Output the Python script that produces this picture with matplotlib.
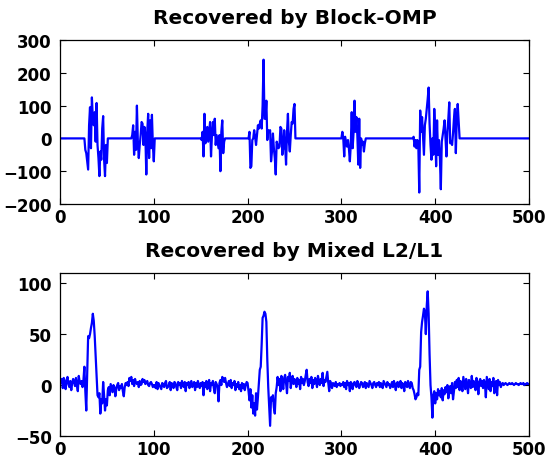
import numpy as np
import matplotlib
matplotlib.use("Agg")
import matplotlib.pyplot as plt

# signal length
n_samples = 500

# Block-OMP result: zero everywhere except these blocks (start index, values)
block1_start = 25
block1 = [0, -35, -45, -70, -95, 40, 95, -30, 125, 60,
          40, 80, -10, 108, -20, -60, -115, -40, -65, 30,
          68, -65, -115, -20, -75, 0]
block2_start = 75
block2 = [0, 10, 40, -50, 20, -35, 100, -10, -60, -20,
          10, 50, 45, -20, 35, 10, -110, 20, 75, -60,
          55, -30, 72, -20, -70, 0]
block3_start = 150
block3 = [-5, 20, -55, 75, -15, 20, 35, -10, 20, 50,
          -55, 10, 50, 10, 60, -20, 10, -10, -30, 10,
          -100, 20, 55, -45, -10, 0]
block4_start = 200
block4 = [0, 20, -90, -85, -5, 0, 25, 5, -20, 10,
          40, 30, 45, 55, 30, 100, 240, 60, 60, 115,
          -5, 25, 20, 25, -70, -40, 15, -30, -60, -110,
          -10, -20, -30, -25, 35, 30, -50, -30, 25, -20,
          -80, 20, 75, -10, -40, 10, 50, 45, 90, 105,
          0]
block5_start = 300
block5 = [20, 0, -55, 5, -10, -25, -5, -30, -70, -20,
          80, -30, 20, 115, 20, 65, 10, -80, 60, -90,
          0, -20, -10, -40, -15, 0]
block6_start = 375
block6 = [0, 5, -25, -5, -30, -5, -20, -165, 85, 20,
          65, 10, -50, 40, 60, 90, 120, 155, 45, -20,
          -65, 0, -50, 90, 20, -85, 55, -50, -5, -60,
          -155, -10, 10, 30, 55, 0, -55, 20, 60, 110,
          -15, -10, -20, 15, 60, 90, -45, 60, 105, 50,
          0]

mixed_000 = [3, 6, -3, 7, 2, -4, 5, 8, 1, -2,
             4, -5, 2, 6, 3, -1, 7, 0, -6, 9,
             3, 1, 4, -2, 5, 18, -6, -25, 10, 48,
             46, 50, 56, 61, 70, 63, 48, 28, 6, -10,
             -12, -8, -28, -14, -18, 3, -10, -25, -14, -20]
mixed_050 = [-5, -2, -10, 1, -3, -7, 0, -2, -11, -4,
             0, 2, -5, -1, -3, 1, -6, -11, -2, 2,
             0, 3, -1, 7, 4, 8, 1, 5, -1, 6,
             2, 1, 3, -2, 4, 0, 1, 6, 3, 5,
             1, 2, 4, 0, -1, 2, 3, 1, -2, 0]
mixed_100 = [0, -3, 3, -4, 2, 0, -2, -4, 2, 1,
             -2, 2, 4, -3, -2, 0, 3, -5, 2, 0,
             -3, 3, 2, -2, -5, 3, 0, 2, -3, 4,
             0, -2, 3, -6, 2, 0, 3, -3, 2, 4,
             -2, 0, 3, -5, 2, -2, 4, 0, -3, 2]
mixed_150 = [-1, 3, -10, 2, -2, 4, -4, 1, 5, -6,
             2, 0, 4, -3, -8, 3, 1, -2, -16, 2,
             5, 0, 8, 6, 3, 7, 2, -2, 1, 4,
             -1, 5, -3, 2, 0, 4, -5, 1, -2, 3,
             -4, 0, -6, 2, -3, 1, -5, 0, 3, 2]
mixed_200 = [-6, -15, -4, -22, -10, -28, -18, -30, -8, -24,
             -12, 2, 15, 18, 40, 66, 68, 72, 70, 62,
             25, -2, -20, -40, -12, -15, -10, -22, -28, -8,
             -2, 8, 0, 6, -6, 9, 3, -4, 7, 10,
             2, -8, 8, 4, 12, -3, 5, 9, 1, 6]
mixed_250 = [3, -2, 7, 1, 5, -4, 8, 2, 6, 0,
             4, 10, 15, 3, -1, 6, 2, 8, -3, 5,
             1, 7, 3, -2, 9, 4, 0, 6, 2, 12,
             -1, 5, 3, 8, 13, 2, -6, 4, 1, -3,
             2, 0, -1, 3, -2, 1, 0, 2, -1, 1]
mixed_300 = [0, 3, -2, 2, -4, 4, 0, 2, -6, 3,
             0, -4, 2, 3, 0, -2, 4, 1, -3, 0,
             3, 2, -2, 0, 3, -3, 2, 0, -2, 4,
             2, 0, -3, 2, 3, 0, -2, 2, 0, 3,
             -2, 2, 0, -3, 4, 2, 0, -2, 3, 0]
mixed_350 = [1, -3, 0, 3, -2, 4, 0, -5, 2, 3,
             -2, 0, 4, -3, 2, 0, -6, 3, 2, -2,
             4, 0, -3, 3, 2, -3, -5, -9, -14, -12,
             -8, -10, 15, 18, 52, 62, 68, 75, 72, 50,
             78, 92, 70, 30, 0, -12, -32, -10, -6, -18]
mixed_400 = [-8, -14, -4, -10, -6, -12, -3, -15, -5, -9,
             -2, -7, 0, -13, -4, -1, -8, 2, -14, -6,
             3, -3, 5, -2, 7, -5, 4, 1, -6, 8,
             2, -4, 6, 0, -8, 5, 1, -3, 9, -2,
             4, 0, -5, 7, 2, -9, 3, 6, -1, 4]
mixed_450 = [-3, 5, 1, -12, 8, 2, -4, 6, -6, 3,
             -1, 7, -8, 2, 4, -10, 5, 0, 3, -2,
             1, 2, 0, 1, 2, 1, 0, 1, 2, 1,
             1, 2, 1, 0, 1, 2, 1, 1, 0, 1,
             2, 1, 1, 2, 0, 1, 1, 2, 1, 1]

titles = ["Recovered by Block-OMP", "Recovered by Mixed L2/L1"]

# build the two signals
omp = np.zeros(n_samples)
for start, vals in [(block1_start, block1), (block2_start, block2), (block3_start, block3),
                    (block4_start, block4), (block5_start, block5), (block6_start, block6)]:
    omp[start:start + len(vals)] = vals

mixed = np.array(mixed_000 + mixed_050 + mixed_100 + mixed_150 + mixed_200 +
                 mixed_250 + mixed_300 + mixed_350 + mixed_400 + mixed_450, dtype=float)

x_omp = np.arange(1, len(omp) + 1)
x_mixed = np.arange(1, len(mixed) + 1)

plt.rcParams['font.family'] = ['DejaVu Sans']
plt.rcParams['font.weight'] = 'bold'

fig = plt.figure(figsize=(5.55, 4.60), dpi=100)
ax1 = fig.add_axes([60 / 555, 1 - 205 / 460, 469 / 555, 164 / 460])
ax2 = fig.add_axes([60 / 555, 1 - 437 / 460, 469 / 555, 163 / 460])

ax1.plot(x_omp, omp, color=(0, 0, 1), lw=1.6)
ax1.set_xlim(0, 500)
ax1.set_ylim(-200, 300)
ax1.set_yticks([-200, -100, 0, 100, 200, 300])

ax2.plot(x_mixed, mixed, color=(0, 0, 1), lw=1.6)
ax2.set_xlim(0, 500)
ax2.set_ylim(-50, 110)
ax2.set_yticks([-50, 0, 50, 100])

for ax, t in zip([ax1, ax2], titles):
    ax.set_xticks([0, 100, 200, 300, 400, 500])
    ax.tick_params(direction='in', length=4, width=0.8, top=True, right=True,
                   labelsize=12)
    ax.tick_params(axis='x', pad=3)
    ax.tick_params(axis='y', pad=6)
    for lab in ax.get_xticklabels() + ax.get_yticklabels():
        lab.set_fontweight('bold')
    for s in ax.spines.values():
        s.set_linewidth(0.9)
    ax.set_title(t, fontsize=14.5, fontweight='bold', pad=12)

fig.savefig("out.png", dpi=100)
